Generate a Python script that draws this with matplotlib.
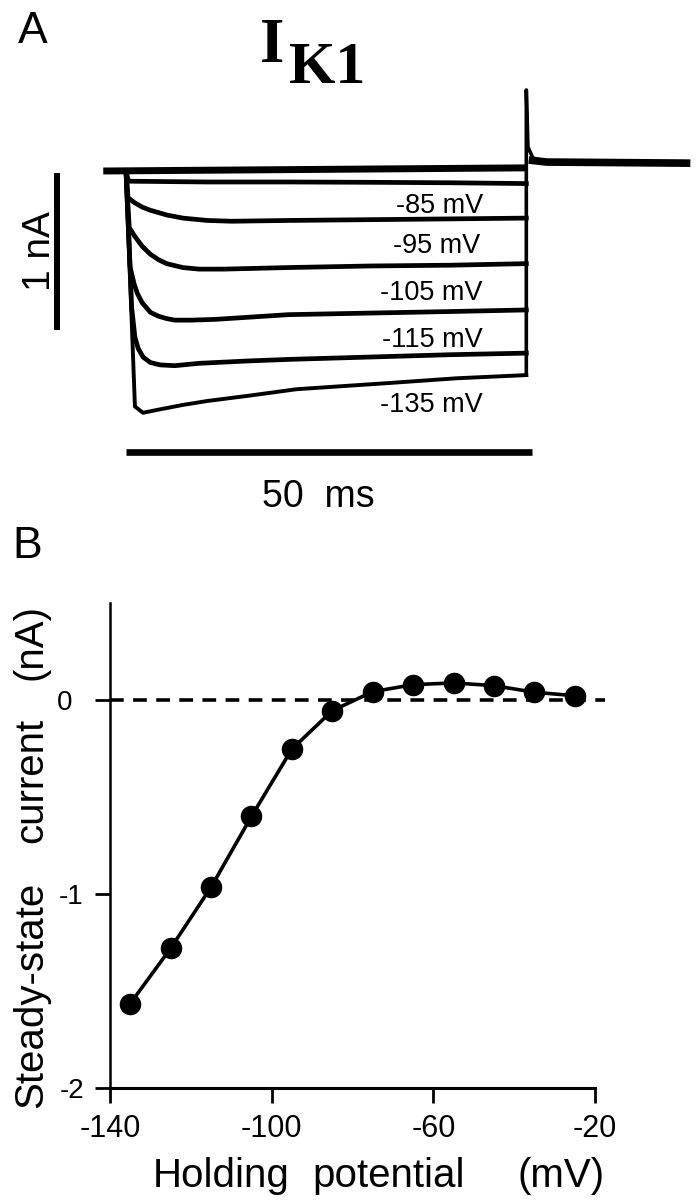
import numpy as np
import matplotlib
matplotlib.use('Agg')
import matplotlib.pyplot as plt
from matplotlib.transforms import ScaledTranslation

plt.rcParams['font.family'] = ['Liberation Sans', 'DejaVu Sans']
plt.rcParams['axes.unicode_minus'] = False

# ---- A: I_K1 current traces, time in ms, current in nA ----
base_t = [-2.8, 49.3]
base_i = [0.0, 0.02]

t75 = [0, 0.3, 10, 20, 30, 40, 49.3]
i75 = [0, -0.065, -0.07, -0.07, -0.072, -0.075, -0.08]

t85 = [0, 0.25, 1, 2, 3, 5, 7, 10, 13, 20, 30, 40, 49.3]
i85 = [0, -0.17, -0.2, -0.23, -0.25, -0.28, -0.30, -0.315, -0.32, -0.315, -0.31, -0.305, -0.30]

t95 = [0, 0.4, 1, 2, 3, 4, 5, 7, 9, 12, 20, 30, 40, 49.3]
i95 = [0, -0.36, -0.41, -0.48, -0.53, -0.565, -0.59, -0.615, -0.625, -0.625, -0.615, -0.605, -0.6, -0.59]

t105 = [0, 0.5, 1, 1.4, 2, 3, 4, 5, 6, 8, 11, 20, 30, 40, 49.3]
i105 = [0, -0.61, -0.72, -0.78, -0.84, -0.9, -0.925, -0.94, -0.95, -0.95, -0.945, -0.915, -0.905, -0.895, -0.885]

t115 = [0, 0.7, 1.1, 1.5, 2.1, 3, 4.2, 6, 9, 15, 20, 30, 40, 49.3]
i115 = [0, -0.87, -1.06, -1.13, -1.185, -1.22, -1.235, -1.24, -1.225, -1.21, -1.2, -1.185, -1.17, -1.16]

t135 = [0, 1.1, 2.1, 4, 7, 10, 15.3, 21, 32.5, 40.8, 49.3]
i135 = [0, -1.5, -1.54, -1.52, -1.49, -1.465, -1.43, -1.39, -1.35, -1.32, -1.30]

# step off: capacity spike, then the overlapping traces back at holding level
tail_t = [49.3, 49.3, 49.5, 50.1, 51.8]
tail_i = [-1.30, 0.516, 0.153, 0.083, 0.057]
post_t = [49.6, 51.8, 69.5]
post_i = [0.07, 0.057, 0.05]

trace_labels = ['-85 mV', '-95 mV', '-105 mV', '-115 mV', '-135 mV']
bar_na = 1.0
bar_ms = 50

# ---- B: steady-state I-V ----
hold_mv = [-135, -125, -115, -105, -95, -85, -75, -65, -55, -45, -35, -25]
ss_na = [-1.565, -1.28, -0.965, -0.60, -0.253, -0.055, 0.043, 0.079, 0.088, 0.074, 0.04, 0.022]
xticks = [-140, -100, -60, -20]
yticks = [-2, -1, 0]

W, H = 696, 1200
fig = plt.figure(figsize=(W / 100, H / 100), dpi=100)


def fx(x):
    return x / W


def fy(y):
    return 1 - y / H


# panel A axes laid over pixel box x 0..696, y 60..500
x0, pxms = 126, 8.12
y0, pxna = 171, 157
ax_a = fig.add_axes([0, fy(500), 1, 440 / H])
ax_a.set_xlim((0 - x0) / pxms, (W - x0) / pxms)
ax_a.set_ylim(-(500 - y0) / pxna, (y0 - 60) / pxna)
ax_a.axis('off')

ax_a.plot(base_t, base_i, color='k', lw=5, solid_capstyle='butt')
for t, i in [(t75, i75), (t85, i85), (t95, i95), (t105, i105), (t115, i115)]:
    ax_a.plot(t, i, color='k', lw=3.4, solid_joinstyle='round')
ax_a.plot(t135, i135, color='k', lw=2.8, solid_joinstyle='round')
ax_a.plot(tail_t, tail_i, color='k', lw=2.6)
ax_a.plot(post_t, post_i, color='k', lw=5.5, solid_capstyle='butt')

# scale bars
ax_a.plot([-8.5, -8.5], [-0.013, -0.013 - bar_na], color='k', lw=4.3, solid_capstyle='butt')
ax_a.plot([0, bar_ms], [-1.79, -1.79], color='k', lw=4.8, solid_capstyle='butt')

fig.text(fx(50), fy(251), '1 nA', fontsize=28, rotation=90, rotation_mode='anchor',
         ha='center', va='baseline')
fig.text(fx(318), fy(507), '50  ms', fontsize=27, ha='center', va='baseline')

label_pos = [(483, 213), (480, 253), (483, 300), (483, 347), (483, 412)]
for lab, (x, y) in zip(trace_labels, label_pos):
    fig.text(fx(x), fy(y), lab, fontsize=19.5, ha='right', va='baseline')

fig.text(fx(18), fy(43), 'A', fontsize=32, ha='left', va='baseline')
fig.text(fx(12), fy(558), 'B', fontsize=32, ha='left', va='baseline')
fig.text(fx(260), fy(62), 'I', fontsize=45, family='Liberation Serif',
         weight='bold', ha='left', va='baseline')
fig.text(fx(289), fy(83), 'K1', fontsize=43, family='Liberation Serif',
         weight='bold', ha='left', va='baseline')

# panel B axes: x -140..-20 -> px 110..595, y -2..0.5 -> px 1088..603
ax_b = fig.add_axes([fx(110), fy(1088), 485 / W, 485 / H])
ax_b.plot([-140, -17.6], [0, 0], color='k', lw=2.6, ls=(0, (3.8, 2.6)), clip_on=False, zorder=1)
ax_b.plot(hold_mv, ss_na, '-o', color='k', lw=2.6, ms=14.5, zorder=3)
ax_b.set_xlim(-140, -20)
ax_b.set_ylim(-2, 0.5)
ax_b.spines['top'].set_visible(False)
ax_b.spines['right'].set_visible(False)
ax_b.spines['left'].set_linewidth(1.8)
ax_b.spines['bottom'].set_linewidth(2.2)
ax_b.set_xticks(xticks)
ax_b.set_xticklabels([str(v) for v in xticks])
ax_b.set_yticks(yticks)
ax_b.set_yticklabels([str(v) for v in yticks])
ax_b.tick_params(axis='x', direction='out', length=10.8, width=2, labelsize=22, pad=8)
ax_b.tick_params(axis='y', direction='out', length=10.8, width=2, labelsize=20, pad=8)
zero_lab = ax_b.get_yticklabels()[-1]
zero_lab.set_transform(zero_lab.get_transform() + ScaledTranslation(-0.12, 0, fig.dpi_scale_trans))

for word, y in [('Steady-state', 995), ('current', 780), ('(nA)', 642)]:
    fig.text(fx(42), fy(y), word, fontsize=29, rotation=90, rotation_mode='anchor',
             ha='center', va='baseline')
for word, x in [('Holding', 153), ('potential', 312), ('(mV)', 518)]:
    fig.text(fx(x), fy(1187), word, fontsize=29, ha='left', va='baseline')

fig.savefig('out.png', dpi=100, facecolor='white')
